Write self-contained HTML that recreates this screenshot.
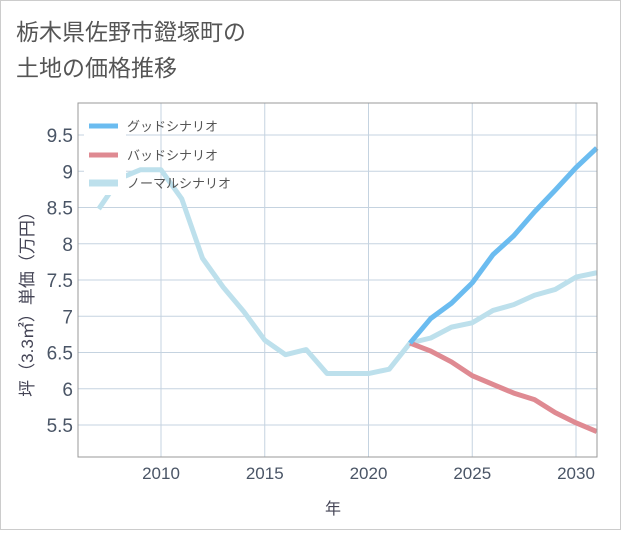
<!DOCTYPE html>
<html><head><meta charset="utf-8"><style>
body{margin:0;background:#fff;}
svg text{font-family:"Liberation Sans","Noto Sans CJK JP",sans-serif;}
</style></head><body>
<svg width="621" height="530">
<rect x="0.5" y="0.5" width="620" height="529" fill="#fff" stroke="#ccc"/>
<text x="16" y="40" font-size="23" fill="#555">栃木県佐野市鐙塚町の</text>
<text x="16" y="76" font-size="23" fill="#555">土地の価格推移</text>
<g id="grid"></g>
<g id="legendbg"></g>
<g id="series"></g>
<rect x="78" y="103" width="519" height="354" fill="none" stroke="#999"/>
<g id="legend"></g>
<text x="333" y="514" font-size="16" fill="#445" text-anchor="middle">年</text>
<text transform="translate(33,300) rotate(-90)" font-size="17" fill="#445" text-anchor="middle">坪（3.3㎡）単価（万円）</text>
</svg>
<script>
const years=[2007,2008,2009,2010,2011,2012,2013,2014,2015,2016,2017,2018,2019,2020,2021,2022,2023,2024,2025,2026,2027,2028,2029,2030,2031];
const normal=[8.48,8.9,9.02,9.02,8.62,7.8,7.4,7.06,6.67,6.47,6.54,6.21,6.21,6.21,6.27,6.63,6.7,6.85,6.91,7.08,7.16,7.29,7.37,7.54,7.6];
const futureYears=[2022,2023,2024,2025,2026,2027,2028,2029,2030,2031];
const good=[6.63,6.97,7.18,7.46,7.85,8.11,8.44,8.74,9.05,9.32];
const bad=[6.63,6.52,6.37,6.18,6.06,5.94,5.85,5.67,5.53,5.41];
const xTicks=[2010,2015,2020,2025,2030];
const yTicks=[5.5,6,6.5,7,7.5,8,8.5,9,9.5];
const NS="http://www.w3.org/2000/svg";
const X=y=>161+(y-2010)*20.75;
const Y=v=>425-(v-5.5)*72.5;
function mk(t,a,p){const e=document.createElementNS(NS,t);for(const k in a)e.setAttribute(k,a[k]);p.appendChild(e);return e;}
const grid=document.getElementById('grid');
yTicks.forEach(v=>{
 const l=mk('line',{x1:78,x2:597,y1:Y(v),y2:Y(v),stroke:'#c5d3e0','stroke-width':1},grid);
 
 
 const t=mk('text',{x:73,y:Y(v)+7,'font-size':19,fill:'#4a5566','text-anchor':'end'},grid);
 t.textContent=v;
 
 
});
xTicks.forEach(v=>{
 const l=mk('line',{x1:X(v),x2:X(v),y1:103,y2:457,stroke:'#c5d3e0','stroke-width':1},grid);
 
 
 const t=mk('text',{x:X(v),y:479,'font-size':17,fill:'#4a5566','text-anchor':'middle'},grid);
 t.textContent=v;
 
 
});
const ser=document.getElementById('series');
function line(xs,vs,c,name){
 const p=mk('polyline',{points:xs.map((x,i)=>X(x)+','+Y(vs[i])).join(' '),fill:'none',stroke:c,'stroke-width':5,'stroke-linejoin':'round'},ser);
 
 
}
line(years,normal,'#bde0ec','normal-scenario-line');
line(futureYears,bad,'#df8a92','bad-scenario-line');
line(futureYears,good,'#6bbcf0','good-scenario-line');
const lg=document.getElementById('legend');
const bg=mk('rect',{x:84,y:110,width:42,height:85,fill:'#fff'},lg);


[['グッドシナリオ','#6bbcf0',126],['バッドシナリオ','#df8a92',155],['ノーマルシナリオ','#bde0ec',183]].forEach(([n,c,y],i)=>{
 const l=mk('line',{x1:89,x2:118,y1:y,y2:y,stroke:c,'stroke-width':i==2?7:5},lg);
 
 
 const t=mk('text',{x:127,y:y+5,'font-size':13,fill:'#555'},lg);
 t.textContent=n;
 
 
});
</script>
</body></html>
